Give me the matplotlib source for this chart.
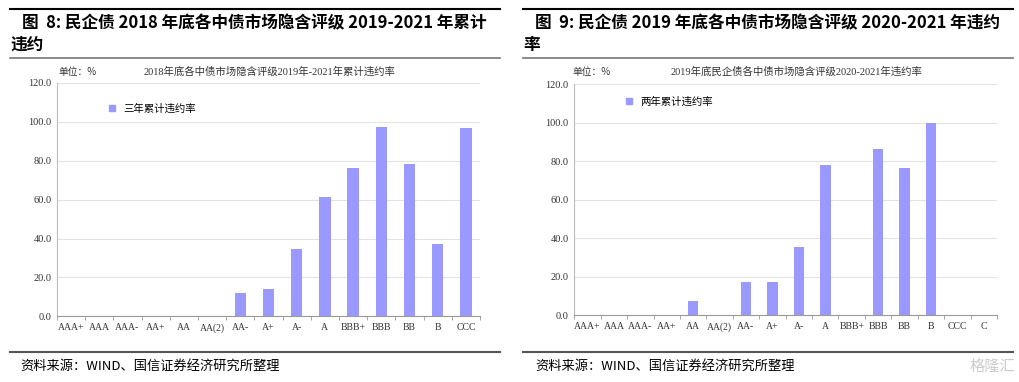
import numpy as np
import matplotlib
matplotlib.use('Agg')
import matplotlib.pyplot as plt
from matplotlib.lines import Line2D

plt.rcParams['font.family'] = ['Noto Sans CJK SC', 'DejaVu Sans']

# 图8 数据
cats_l = ['AAA+', 'AAA', 'AAA-', 'AA+', 'AA', 'AA(2)', 'AA-', 'A+', 'A-', 'A',
          'BBB+', 'BBB', 'BB', 'B', 'CCC']
vals_l = [0, 0, 0, 0, 0, 0, 12.0, 14.0, 34.6, 61.5, 76.1, 97.5, 78.3, 37.2, 96.8]

# 图9 数据
cats_r = ['AAA+', 'AAA', 'AAA-', 'AA+', 'AA', 'AA(2)', 'AA-', 'A+', 'A-', 'A',
          'BBB+', 'BBB', 'BB', 'B', 'CCC', 'C']
vals_r = [0, 0, 0, 0, 7.4, 0, 17.3, 17.3, 35.3, 77.9, 0, 86.3, 76.5, 100.0, 0, 0]

bar_color = '#9999FF'
num_font = ['Liberation Serif', 'Noto Sans CJK SC']

fig = plt.figure(figsize=(10.2, 3.82), dpi=100)
W, H = 1020.0, 382.0


def px(x, y):
    return x / W, 1 - y / H


def draw_panel(rect, cats, vals, chart_title, legend_label, legend_xy, unit_x, title_x):
    ax = fig.add_axes(rect)
    ind = np.arange(len(cats))
    ax.bar(ind, vals, width=0.4, color=bar_color, zorder=3)
    ax.set_xlim(-0.5, len(cats) - 0.5)
    ax.set_ylim(0, 120)
    ax.set_yticks(np.arange(0, 121, 20))
    ax.set_yticklabels(['%.1f' % v for v in np.arange(0, 121, 20)],
                       family=num_font, fontsize=7.5, color='#333333')
    ax.set_xticks(ind)
    ax.set_xticklabels(cats, family=num_font, fontsize=7, color='#333333')
    ax.set_xticks(np.arange(-0.5, len(cats), 1), minor=True)
    ax.tick_params(axis='x', which='major', length=0, pad=5)
    ax.tick_params(axis='x', which='minor', length=3, color='#999999')
    ax.tick_params(axis='y', length=0, pad=4)
    ax.grid(axis='y', color='#e3e3e3', linewidth=0.8, zorder=0)
    for s in ['top', 'right']:
        ax.spines[s].set_visible(False)
    ax.spines['left'].set_color('#bbbbbb')
    ax.spines['bottom'].set_color('#999999')
    # 图例
    h = Line2D([], [], marker='s', linestyle='none', color=bar_color, markersize=4)
    ax.legend([h], [legend_label], loc='upper left', frameon=False, fontsize=7.5,
              handletextpad=0.1, bbox_to_anchor=legend_xy, borderaxespad=0)
    x, y = px(unit_x, 72)
    fig.text(x, y, '单位：%', fontsize=7, color='#333333', va='center')
    x, y = px(title_x, 72)
    fig.text(x, y, chart_title, fontsize=7.5, color='#333333', va='center', ha='center',
             family=num_font)
    return ax


l0, b0 = px(57, 316.3)
l1, t1 = px(480, 83)
draw_panel([l0, b0, l1 - l0, t1 - b0], cats_l, vals_l,
           '2018年底各中债市场隐含评级2019年-2021年累计违约率', '三年累计违约率',
           (0.095, 0.93), 58, 270)

r0, rb = px(574.3, 315.3)
r1, rt = px(997, 84.3)
draw_panel([r0, rb, r1 - r0, rt - rb], cats_r, vals_r,
           '2019年底民企债各中债市场隐含评级2020-2021年违约率', '两年累计违约率',
           (0.095, 0.965), 572, 797)

# 标题和分隔线
for (xa, xb) in [(10, 500), (523, 1013)]:
    fig.add_artist(Line2D([xa / W, xb / W], [1 - 9 / H] * 2, color='black', lw=1.5))
    fig.add_artist(Line2D([xa / W, xb / W], [1 - 58 / H] * 2, color='#777777', lw=1.2))
    fig.add_artist(Line2D([xa / W, xb / W], [1 - 352 / H] * 2, color='#555555', lw=1.5))

hdr = dict(fontsize=12, fontweight='bold', color='black', va='center')
x, y = px(22, 23)
fig.text(x, y, '图  8: 民企债 2018 年底各中债市场隐含评级 2019-2021 年累计', **hdr)
x, y = px(10, 45)
fig.text(x, y, '违约', **hdr)
x, y = px(535, 23)
fig.text(x, y, '图  9: 民企债 2019 年底各中债市场隐含评级 2020-2021 年违约', **hdr)
x, y = px(523, 45)
fig.text(x, y, '率', **hdr)

src = '资料来源：WIND、国信证券经济研究所整理'
x, y = px(20, 366)
fig.text(x, y, src, fontsize=9.5, color='black', va='center')
x, y = px(535, 366)
fig.text(x, y, src, fontsize=9.5, color='black', va='center')

# 水印
x, y = px(1015, 366)
fig.text(x, y, '格隆汇', fontsize=11, color='#cccccc', va='center', ha='right')

fig.savefig('out.png', dpi=100)
